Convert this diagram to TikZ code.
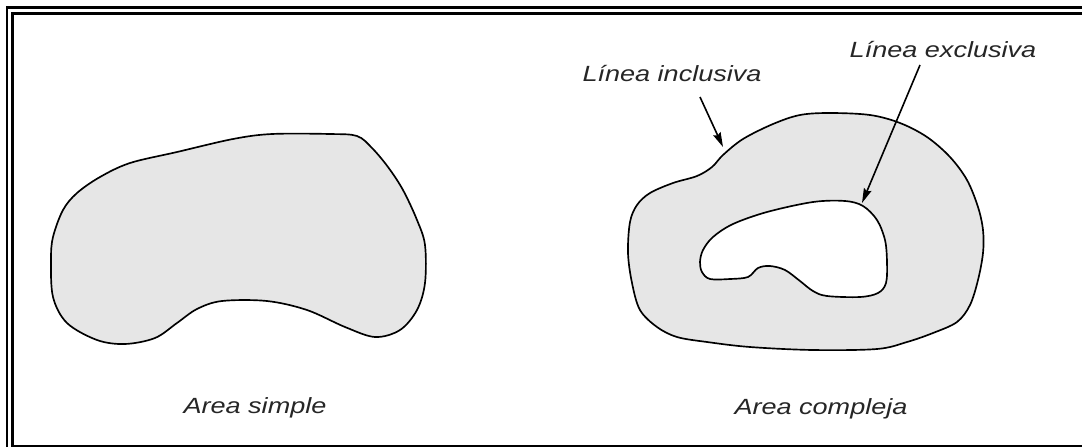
\documentclass[tikz,border=0pt]{standalone}
\usepackage{fontspec}
\setmainfont{Liberation Sans}
\usetikzlibrary{arrows.meta}
\definecolor{areagray}{HTML}{E6E6E6}
\begin{document}
\begin{tikzpicture}[x=0.75pt,y=-0.75pt,
  lbl/.style={inner sep=0pt,anchor=base,text=black!85,font=\fontsize{16.5}{19}\selectfont\itshape},
  shapeline/.style={draw=black,line width=1.25pt,line join=round},
  arr/.style={draw=black,line width=1.2pt,-{Stealth[length=11pt,width=6pt,inset=1.5pt]}},
  frameout/.style={draw=black,line width=2.2pt},
  framein/.style={draw=black,line width=1.6pt}]
\useasboundingbox (0,0) rectangle (1082,447);
\fill[white] (0,0) rectangle (1082,447);
% frame
\draw[frameout] (7,447) -- (7,7.5) -- (1082,7.5);
\draw[framein] (1082,446) -- (12.5,446) -- (12.5,13.5) -- (1082,13.5);
% simple area
\path[shapeline,fill=areagray] plot[smooth cycle,tension=0.55] coordinates {
(233,139) (272,134) (330,134) (357,136) (372,148) (388,167) (403,190) (417,220)
(425,245) (425,283) (417,310) (400,330) (375,337) (345,327) (307,310) (267,301)
(222,301) (197,309) (177,323) (155,338) (125,344) (97,340) (67,323) (53,297)
(51,260) (53,237) (63,210) (77,193) (100,177) (130,163) (177,152)};
% complex area outer
\path[shapeline,fill=areagray] plot[smooth cycle,tension=0.55] coordinates {
(800,115) (830,113) (870,115) (900,123) (927,137) (950,157) (967,180)
(978,207) (983,230) (983,253) (978,280) (970,305) (957,322) (933,333) (907,342)
(877,349) (813,350) (750,347) (707,342) (677,337) (657,327) (640,310) (632,283)
(628,253) (630,222) (637,205) (650,193) (673,183) (697,176) (712,167) (723,155)
(743,139) (773,124)};
% hole
\path[shapeline,fill=white] plot[smooth cycle,tension=0.55] coordinates {
(700,262) (703,250) (713,237) (733,224) (767,212) (813,202) (845,201) (863,206)
(877,220) (885,240) (887,262) (886,283) (878,293) (860,297) (827,296) (813,291)
(800,281) (785,270) (770,266) (758,268) (748,277) (730,279) (710,279) (702,272)};
% labels
\node[lbl] (simple) at (255,413) {\scalebox{1.23}[1]{Area simple}};
\node[lbl] (compleja) at (821,414) {\scalebox{1.23}[1]{Area compleja}};
\node[lbl] (inclusiva) at (672,81) {\scalebox{1.23}[1]{Línea inclusiva}};
\node[lbl] (exclusiva) at (943,57) {\scalebox{1.23}[1]{Línea exclusiva}};
% arrows
\coordinate (incstart) at (700,97);
\coordinate (inctip) at (723,147);
\coordinate (excstart) at (920,65);
\coordinate (exctip) at (862,203);
\draw[arr] (incstart) -- (inctip);
\draw[arr] (excstart) -- (exctip);
\end{tikzpicture}
\end{document}
